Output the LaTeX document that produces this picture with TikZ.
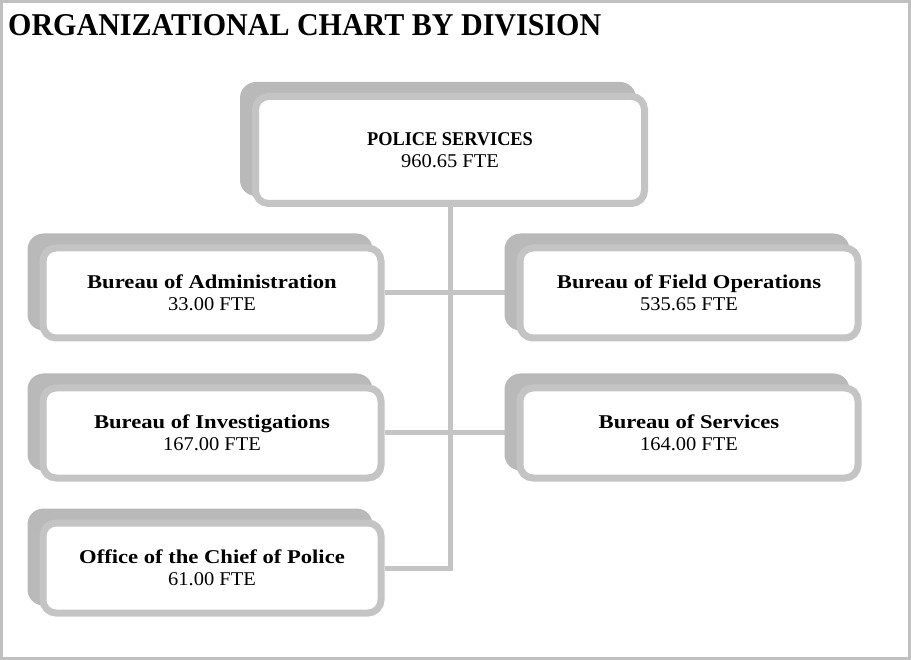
\documentclass[tikz,border=0pt]{standalone}
\usepackage{graphicx}
\usepackage{fontspec}
\setmainfont{Liberation Serif}[UprightFeatures={FakeStretch=1.05}, BoldFeatures={FakeStretch=1.16}]
\usetikzlibrary{calc}
\pgfdeclarelayer{bg}
\pgfdeclarelayer{shd}
\pgfsetlayers{bg,shd,main}
\definecolor{linegray}{HTML}{C4C4C4}
\definecolor{framegray}{HTML}{C0C0C0}
\definecolor{shadegray}{HTML}{B9B9B9}
\tikzset{
  orgbox/.style={draw=linegray, line width=7pt, fill=white, rounded corners=13pt,
    align=center, inner sep=0pt, font=\fontsize{19.5}{22}\selectfont},
  bigbox/.style={orgbox, minimum width=389pt, minimum height=107pt},
  unitbox/.style={orgbox, minimum width=338pt, minimum height=90pt},
  conn/.style={draw=linegray, line width=5pt},
  shadowfill/.style={fill=shadegray, rounded corners=16pt},
}
\begin{document}
\begin{tikzpicture}[x=1pt,y=-1pt]
\useasboundingbox (0,0) rectangle (911,660);
% title
\node[anchor=base west, inner sep=0pt] (title) at (8,36)
  {\resizebox{593pt}{21pt}{\bfseries ORGANIZATIONAL CHART BY DIVISION}};
% boxes
\node[bigbox] (police) at (450,150) {\scalebox{0.81}[1]{\textbf{POLICE SERVICES}}\\960.65 FTE};
\node[unitbox] (admin) at (212,293) {\textbf{Bureau of Administration}\\33.00 FTE};
\node[unitbox] (field) at (689,293) {\textbf{Bureau of Field Operations}\\535.65 FTE};
\node[unitbox] (inv) at (212,433) {\textbf{Bureau of Investigations}\\167.00 FTE};
\node[unitbox] (serv) at (689,433) {\textbf{Bureau of Services}\\164.00 FTE};
\node[unitbox] (office) at (212,568) {\textbf{Office of the Chief of Police}\\61.00 FTE};
% shadows
\begin{pgfonlayer}{shd}
\foreach \n in {police,admin,field,inv,serv,office}
  \fill[shadowfill] ([shift={(-12,-11)}]\n.north west) rectangle ([shift={(-12,-11)}]\n.south east);
\end{pgfonlayer}
% frame and connectors
\begin{pgfonlayer}{bg}
\draw[framegray, line width=3pt, fill=white] (1.5,1.5) rectangle (909.5,658.5);
\draw[conn] (police.south) -- (police.south |- office.east) -- (office.east);
\draw[conn] (admin.east) -- (field.west);
\draw[conn] (inv.east) -- (serv.west);
\end{pgfonlayer}
\end{tikzpicture}
\end{document}
